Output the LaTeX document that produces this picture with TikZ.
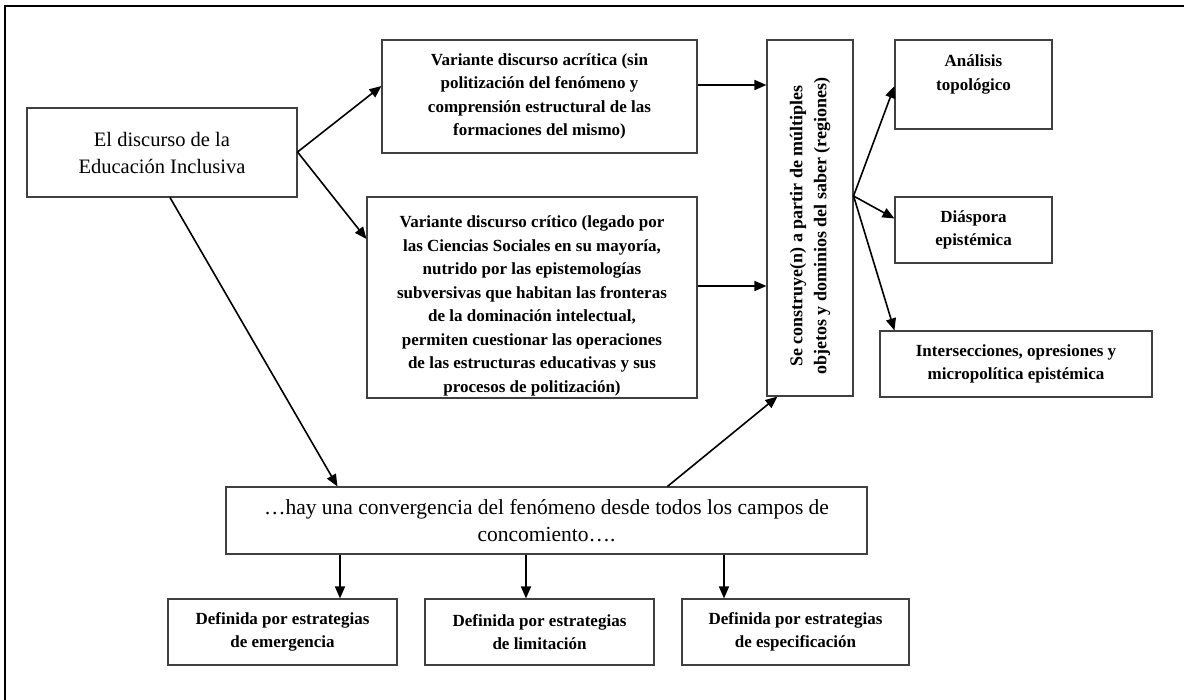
\documentclass[tikz,border=0pt]{standalone}
\usepackage{fontspec}
\setmainfont{Liberation Serif}
\usetikzlibrary{arrows.meta}
\begin{document}
\begin{tikzpicture}[x=1pt,y=-1pt,
  box/.style={draw=black!75, line width=1.1pt, inner sep=0pt, align=center, text=black},
  bt/.style={font=\fontsize{17}{23.5}\selectfont\bfseries},
  rt/.style={font=\fontsize{20.5}{27}\selectfont},
  arr/.style={-{Triangle[length=12pt,width=10pt]}, line width=1.6pt}]
\useasboundingbox (0,0) rectangle (1184,700);
\draw[line width=1.8pt] (5,700) -- (5,6) -- (1184,6);

% left box
\node[box, rt, minimum width=270pt, minimum height=89pt] (disc) at (162,152.5)
  {El discurso de la\\Educación Inclusiva};
% acritica
\node[box, bt, minimum width=315pt, minimum height=113pt] (acr) at (539.5,96.5)
  {Variante discurso acrítica (sin\\politización del fenómeno y\\comprensión estructural de las\\formaciones del mismo)};
% critico
\node[box, minimum width=330pt, minimum height=201pt] (crit) at (532,297.5) {};
\begin{scope}
  \clip (crit.north west) rectangle (crit.south east);
  \node[bt, align=center, inner sep=0pt] (critT) at (532,306)
  {Variante discurso crítico (legado por\\las Ciencias Sociales en su mayoría,\\nutrido por las epistemologías\\subversivas que habitan las fronteras\\de la dominación intelectual,\\permiten cuestionar las operaciones\\de las estructuras educativas y sus\\procesos de politización)};
\end{scope}
% vertical
\node[box, minimum width=86pt, minimum height=356pt] (vert) at (810,218) {};
\node[font=\fontsize{18}{24}\selectfont\bfseries, rotate=90, align=center, inner sep=0pt] (vertT) at (810,226)
  {Se construye(n) a partir de múltiples\\objetos y dominios del saber (regiones)};
% right boxes
\node[box, bt, minimum width=157pt, minimum height=89pt] (ana) at (973.5,84.5)
  {Análisis\\topológico\\\mbox{}};
\node[box, bt, minimum width=157pt, minimum height=66pt] (dias) at (973.5,230)
  {Diáspora\\epistémica};
\node[box, bt, minimum width=272pt, minimum height=66pt] (inter) at (1016,364)
  {Intersecciones, opresiones y\\micropolítica epistémica};
% convergence
\node[box, font=\fontsize{21.5}{27}\selectfont, minimum width=641pt, minimum height=67pt] (conv) at (546.5,520.5)
  {\dots hay una convergencia del fenómeno desde todos los campos de\\concomiento\dots .};
% bottom
\node[box, bt, minimum width=229pt, minimum height=66pt] (d1) at (282.5,632)
  {Definida por estrategias\\de emergencia};
\node[box, bt, minimum width=229pt, minimum height=66pt] (d2) at (539.5,632)
  {Definida por estrategias\\de limitación};
\node[box, bt, minimum width=227pt, minimum height=66pt] (d3) at (795.5,632)
  {Definida por estrategias\\de especificación};

% arrows
\draw[arr] ([yshift=0.5pt]disc.east) -- ([yshift=10.5pt]acr.west);
\draw[arr] ([yshift=0.5pt]disc.east) -- ([yshift=58.5pt]crit.west);
\draw[arr] ([yshift=11.5pt]acr.east) -- ([yshift=11.5pt]acr.east -| vert.west);
\draw[arr] ([yshift=11.5pt]crit.east) -- ([yshift=11.5pt]crit.east -| vert.west);
\coordinate (vr) at ([yshift=22pt]vert.east);
\draw[arr] (vr) -- ([yshift=-1.5pt]ana.west);
\draw[arr] (vr) -- ([yshift=11.5pt]dias.west);
\draw[arr] (vr) -- ([xshift=15pt]inter.north west);
\draw[arr] ([xshift=8pt]disc.south) -- ([xshift=112pt]conv.north west);
\draw[arr] ([xshift=442pt]conv.north west) -- ([xshift=11pt]vert.south west);
\draw[arr] ([xshift=57.5pt]d1.north |- conv.south) -- ([xshift=57.5pt]d1.north);
\draw[arr] ([xshift=-13.5pt]d2.north |- conv.south) -- ([xshift=-13.5pt]d2.north);
\draw[arr] ([xshift=-71.5pt]d3.north |- conv.south) -- ([xshift=-71.5pt]d3.north);
\end{tikzpicture}
\end{document}
